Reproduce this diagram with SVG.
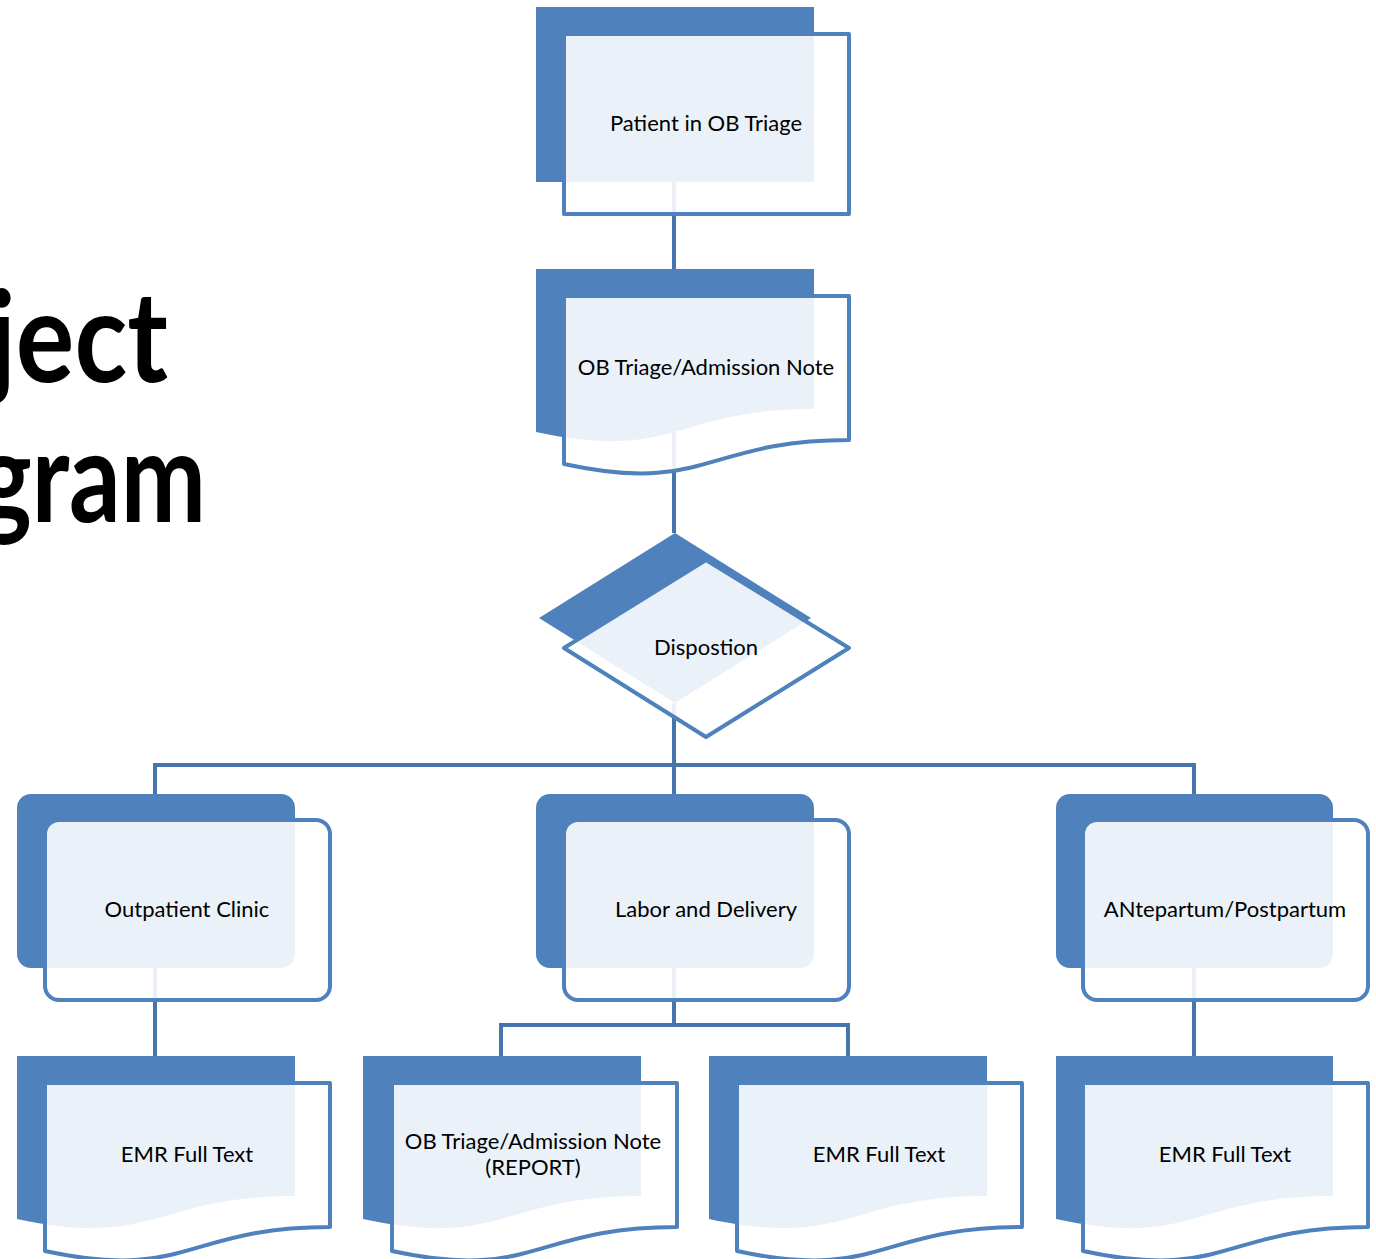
<svg xmlns="http://www.w3.org/2000/svg" width="1376" height="1259" viewBox="0 0 1376 1259">
<style>
.back{fill:#4f81bd;stroke:none}
.front{fill:#ffffff;fill-opacity:0.89;stroke:#4f81bd;stroke-width:4;stroke-linejoin:round}
.conn{fill:none;stroke:#4674ac;stroke-width:4}
.lbl{font-family:Lato,"Open Sans",sans-serif;font-size:22px;fill:#000;text-anchor:middle}
.title{font-family:Lato,"Liberation Sans",sans-serif;font-weight:bold;font-size:126px;fill:#000}
</style>
<rect width="1376" height="1259" fill="#ffffff"/>
<g id="title">
<text class="title" x="-12" y="382" textLength="180" lengthAdjust="spacingAndGlyphs">ject</text>
<text class="title" x="-22" y="522" textLength="228" lengthAdjust="spacingAndGlyphs">gram</text>
</g>
<g id="connectors">
<path class="conn" d="M674,181 V269"/>
<path class="conn" d="M674,430 V533"/>
<path class="conn" d="M674,703 V794"/>
<path class="conn" d="M155,794 V765 H1194 V794"/>
<path class="conn" d="M155,968 V1056"/>
<path class="conn" d="M674,968 V1025"/>
<path class="conn" d="M501,1056 V1025 H848 V1056"/>
<path class="conn" d="M1194,968 V1056"/>
</g>
<g id="node-patient">
<rect class="back" x="536" y="7" width="278" height="175"/>
<rect class="front" x="564" y="34" width="285" height="180"/>
<text class="lbl" x="706" y="131">Patient in OB Triage</text>
</g>
<g id="node-admission">
<path class="back" d="M536,269 H814 V409 C675,409 675,462 536,432 Z"/>
<path class="front" d="M564,296 H849 V440 C706,440 706,495 564,464 Z"/>
<text class="lbl" x="706" y="375">OB Triage/Admission Note</text>
</g>
<g id="node-disposition">
<path class="back" d="M675,533 L811,618 L675,703 L539,618 Z"/>
<path class="front" d="M706,560 L849,648 L706,737 L564,648 Z"/>
<text class="lbl" x="706" y="655">Dispostion</text>
</g>
<g id="node-outpatient">
<rect class="back" x="17" y="794" width="278" height="174" rx="14"/>
<rect class="front" x="45" y="820" width="285" height="180" rx="14"/>
<text class="lbl" x="187" y="917">Outpatient Clinic</text>
</g>
<g id="node-labor">
<rect class="back" x="536" y="794" width="278" height="174" rx="14"/>
<rect class="front" x="564" y="820" width="285" height="180" rx="14"/>
<text class="lbl" x="706" y="917">Labor and Delivery</text>
</g>
<g id="node-antepartum">
<rect class="back" x="1056" y="794" width="277" height="174" rx="14"/>
<rect class="front" x="1083" y="820" width="285" height="180" rx="14"/>
<text class="lbl" x="1225" y="917">ANtepartum/Postpartum</text>
</g>
<g id="node-emr1">
<path class="back" d="M17,1056 H295 V1196 C156,1196 156,1249 17,1219 Z"/>
<path class="front" d="M45,1083 H330 V1227 C187,1227 187,1282 45,1251 Z"/>
<text class="lbl" x="187" y="1162">EMR Full Text</text>
</g>
<g id="node-report">
<path class="back" d="M363,1056 H641 V1196 C502,1196 502,1249 363,1219 Z"/>
<path class="front" d="M392,1083 H677 V1227 C534,1227 534,1282 392,1251 Z"/>
<text class="lbl" x="533" y="1149">OB Triage/Admission Note</text>
<text class="lbl" x="533" y="1175">(REPORT)</text>
</g>
<g id="node-emr2">
<path class="back" d="M709,1056 H987 V1196 C848,1196 848,1249 709,1219 Z"/>
<path class="front" d="M737,1083 H1022 V1227 C879,1227 879,1282 737,1251 Z"/>
<text class="lbl" x="879" y="1162">EMR Full Text</text>
</g>
<g id="node-emr3">
<path class="back" d="M1056,1056 H1333 V1196 C1194,1196 1194,1249 1056,1219 Z"/>
<path class="front" d="M1083,1083 H1368 V1227 C1225,1227 1225,1282 1083,1251 Z"/>
<text class="lbl" x="1225" y="1162">EMR Full Text</text>
</g>
</svg>
